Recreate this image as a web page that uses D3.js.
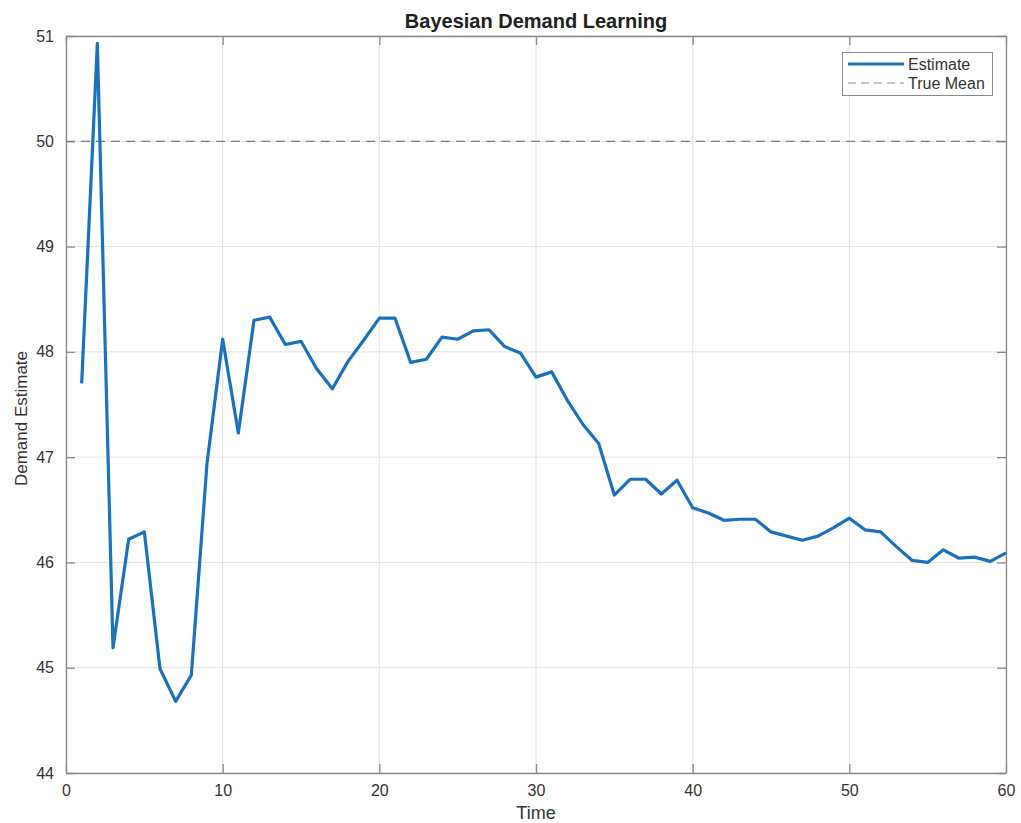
<!DOCTYPE html>
<html><head><meta charset="utf-8">
<script src="https://cdn.jsdelivr.net/npm/d3@7"></script>
<style>body{margin:0;background:#fff}svg{display:block}text{font-family:"Liberation Sans",Arial,Helvetica,sans-serif}</style>
</head><body><svg id="c" width="1021" height="823"></svg>
<script>
const times = d3.range(1, 61);
const estimate = [47.70,50.93,45.19,46.22,46.29,44.99,44.68,44.93,46.94,48.12,
47.23,48.30,48.33,48.07,48.10,47.84,47.65,47.91,48.11,48.32,
48.32,47.90,47.93,48.14,48.12,48.20,48.21,48.05,47.99,47.76,
47.81,47.54,47.31,47.13,46.64,46.79,46.79,46.65,46.78,46.52,
46.47,46.40,46.41,46.41,46.29,46.25,46.21,46.25,46.33,46.42,
46.31,46.29,46.15,46.02,46.00,46.12,46.04,46.05,46.01,46.09];
const trueMean = 50;
const xTicks = [0,10,20,30,40,50,60];
const yTicks = [44,45,46,47,48,49,50,51];
const seriesNames = ["Estimate","True Mean"];

const svg = d3.select("#c");
const L=66,R=1006,T=36,B=773;
const x = d3.scaleLinear().domain([0,60]).range([L,R]);
const y = d3.scaleLinear().domain([44,51]).range([B,T]);
const axisCol="#8a8a8a", txt="#333333";

// grid
svg.append("g").selectAll("line").data(xTicks).join("line")
 .attr("x1",d=>x(d)).attr("x2",d=>x(d)).attr("y1",T).attr("y2",B)
 .attr("stroke","#e3e3e3").attr("stroke-width",1);
svg.append("g").selectAll("line").data(yTicks).join("line")
 .attr("y1",d=>y(d)).attr("y2",d=>y(d)).attr("x1",L).attr("x2",R)
 .attr("stroke","#e3e3e3").attr("stroke-width",1);

// axes (ticks inside)
const fmt=d3.format("d");
const gx=svg.append("g").attr("transform",`translate(0,${B})`).call(d3.axisBottom(x).tickValues(xTicks).tickFormat(fmt).tickSizeInner(-9).tickSizeOuter(0).tickPadding(12));
const gy=svg.append("g").attr("transform",`translate(${L},0)`).call(d3.axisLeft(y).tickValues(yTicks).tickFormat(fmt).tickSizeInner(-9).tickSizeOuter(0).tickPadding(12));
const gxt=svg.append("g").attr("transform",`translate(0,${T})`).call(d3.axisTop(x).tickValues(xTicks).tickFormat("").tickSizeInner(-9).tickSizeOuter(0));
const gyr=svg.append("g").attr("transform",`translate(${R},0)`).call(d3.axisRight(y).tickValues(yTicks).tickFormat("").tickSizeInner(-9).tickSizeOuter(0));
[gx,gy,gxt,gyr].forEach(g=>{
 g.select(".domain").attr("stroke",axisCol).attr("stroke-width",1.3);
 g.selectAll(".tick line").attr("stroke",axisCol).attr("stroke-width",1.3);
 g.selectAll(".tick text").attr("fill",txt).style("font-size","16px");
});

// true mean
svg.append("line").attr("x1",L).attr("x2",R).attr("y1",y(trueMean)).attr("y2",y(trueMean))
 .attr("stroke","#7f7f7f").attr("stroke-width",1.2).attr("stroke-dasharray","9,6");

// estimate
svg.append("path").datum(times.map((t,i)=>[t,estimate[i]]))
 .attr("fill","none").attr("stroke","#1a72bd").attr("stroke-width",3.2).attr("stroke-linejoin","round")
 .attr("d",d3.line().x(d=>x(d[0])).y(d=>y(d[1])));

// labels
svg.append("text").attr("x",(L+R)/2).attr("y",28).attr("text-anchor","middle").attr("fill","#202020")
 .style("font-size","20px").style("font-weight","bold").text("Bayesian Demand Learning");
svg.append("text").attr("x",(L+R)/2).attr("y",819).attr("text-anchor","middle").attr("fill",txt)
 .style("font-size","18px").text("Time");
svg.append("text").attr("transform",`translate(27,${(T+B)/2 + 14}) rotate(-90)`).attr("text-anchor","middle").attr("fill",txt)
 .style("font-size","17px").text("Demand Estimate");

// legend
const lg=svg.append("g");
lg.append("rect").attr("x",842.5).attr("y",52.5).attr("width",150).attr("height",43)
 .attr("fill","#fff").attr("stroke","#8a8a8a").attr("stroke-width",1);
const lrows=[{y:64,stroke:"#1a72bd",w:3.2,dash:null},{y:83,stroke:"#8a8a8a",w:1.2,dash:"8,5"}];
lrows.forEach((r,i)=>{
 lg.append("line").attr("x1",848).attr("x2",904).attr("y1",r.y).attr("y2",r.y)
  .attr("stroke",r.stroke).attr("stroke-width",r.w).attr("stroke-dasharray",r.dash);
 lg.append("text").attr("x",908).attr("y",r.y+5.5).attr("fill",txt).style("font-size","16px").text(seriesNames[i]);
});
</script></body></html>
